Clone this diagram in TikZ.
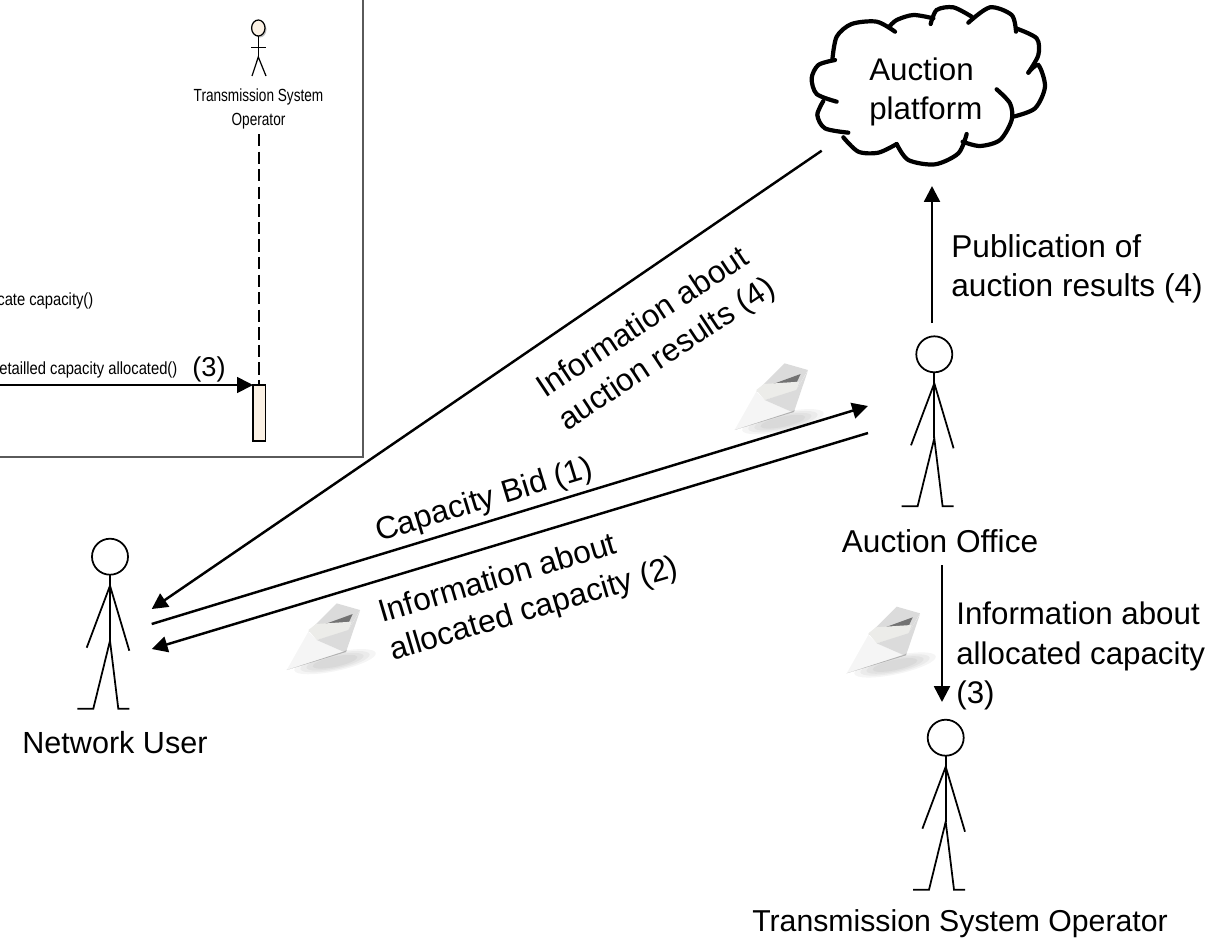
\documentclass[tikz,border=0pt]{standalone}
\usepackage{fontspec}
\setmainfont{Liberation Sans}
\usetikzlibrary{arrows.meta}
\definecolor{boxgray}{HTML}{5A5A5A}
\definecolor{cream}{HTML}{FBF1E4}
\newcommand{\narrowtext}[1]{\scalebox{0.775}[1]{#1}}
\newcommand{\msgtext}[1]{\scalebox{0.84}[1]{#1}}
\tikzset{
  msgline/.style={line width=1.4pt, -{Triangle[length=9pt,width=9pt]}},
  bigtext/.style={font=\fontsize{18}{22.4}\selectfont, inner sep=0pt},
  smalltext/.style={font=\fontsize{10}{13.7}\selectfont, inner sep=0pt},
  pics/stickman/.style={code={
    \draw[line width=1pt] (0,0) circle (18);
    \draw[line width=1pt] (0,18) -- (0,84);
    \draw[line width=1pt] (-23.3,91) -- (0,29) -- (19.3,94);
    \draw[line width=1pt] (-32.7,152) -- (-16.7,152) -- (0,84) -- (8.3,152) -- (19.3,152);
  }},
  pics/envelope/.style={code={
    \begin{scope}[scale=1/3, shift={(-20,-210)}]
    \foreach \r in {1,0.85,0.7,0.55}
      \fill[black, opacity=0.04, rotate around={12:(165,185)}] (165,185) ellipse ({125*\r} and {28*\r});
    \fill[black!14] (85,95) -- (170,10) -- (240,30) -- (205,90) -- cycle;
    \fill[black!55] (100,85) -- (218,42) -- (205,70) -- cycle;
    \fill[yellow!14!black!10] (85,90) -- (108,72) -- (215,65) -- (205,92) -- (110,120) -- cycle;
    \fill[black!4] (20,210) -- (85,95) -- (110,120) -- (190,155) -- cycle;
    \fill[black!14] (110,120) -- (205,90) -- (240,32) -- (200,150) -- (190,155) -- cycle;
    \fill[black!30] (20,210) -- (190,155) -- (200,150) -- (198,156) -- cycle;
    \end{scope}
  }}
}
\begin{document}
\begin{tikzpicture}[x=0.02cm, y=-0.02cm]
\useasboundingbox (0,0) rectangle (1228,941);
% sequence diagram cut-out
\draw[boxgray, line width=1pt] (362.7,-5) -- (362.7,456.7) -- (-5,456.7);
\fill[black!25] (259.8,29.5) ellipse (6.7 and 8);
\draw[fill=cream, line width=0.7pt] (258.3,28) ellipse (6.7 and 8);
\draw[line width=0.7pt] (258.3,36) -- (258.3,57);
\draw[line width=0.7pt] (251,47.3) -- (266,47.3);
\draw[line width=0.7pt] (252,76) -- (258.3,57) -- (266,76);
\node[smalltext, align=center] (tsosmall) at (258.5,109) {\narrowtext{Transmission System}\\\narrowtext{Operator}};
\draw[dash pattern=on 7pt off 3pt, line width=0.7pt] (259,134) -- (259,385);
\draw[fill=cream, line width=0.8pt] (253,385) rectangle (265.5,441);
\draw[line width=1.1pt] (253,441) -- (266,441);
\coordinate (msgstart) at (-5,385);
\coordinate (msgend) at (253,385);
\draw[line width=1pt, -{Triangle[length=9pt,width=9pt]}] (msgstart) -- (msgend);
\node[smalltext, anchor=east] (allocate) at (93.7,300.7) {\msgtext{cate capacity()}};
\node[smalltext, anchor=east] (allocated) at (177.7,370) {\msgtext{etailled capacity allocated()}};
\node[font=\fontsize{15.5}{18}\selectfont, inner sep=0pt] (three) at (209,369) {(3)};
% cloud
\begin{scope}[shift={(780,0)}, scale=1/3, line width=2.4pt, line cap=round]
\draw plot[smooth] coordinates {(165,180) (115,195) (95,235) (110,282) (170,305)};
\draw plot[smooth] coordinates {(130,303) (112,345) (135,385) (205,398)};
\draw plot[smooth] coordinates {(190,412) (235,455) (295,458) (350,432)};
\draw plot[smooth] coordinates {(350,432) (385,480) (465,493) (535,460) (560,402)};
\draw plot[smooth] coordinates {(548,425) (600,438) (660,420) (695,360) (690,310) (650,268)};
\draw plot[smooth] coordinates {(700,350) (765,325) (795,260) (775,195) (745,218)};
\draw plot[smooth] coordinates {(745,218) (775,165) (770,115) (708,85)};
\draw plot[smooth] coordinates {(708,95) (695,45) (630,22) (565,68)};
\draw plot[smooth] coordinates {(575,50) (520,22) (470,30) (452,72)};
\draw plot[smooth] coordinates {(460,55) (400,45) (350,60) (328,80)};
\draw plot[smooth] coordinates {(345,95) (290,65) (215,72) (170,110) (157,180)};
\end{scope}
\node[inner sep=0pt, font=\fontsize{17.8}{21.9}\selectfont, align=left, anchor=west] (platform) at (869,92) {Auction\\platform};
% actors
\pic at (110,556.7) {stickman};
\pic at (934.3,354.3) {stickman};
\pic at (945.7,737.7) {stickman};
\node[inner sep=0pt, font=\fontsize{17.4}{20}\selectfont] (networkuser) at (115,743) {Network User};
\node[bigtext] (auctionoffice) at (940,541) {Auction Office};
\node[inner sep=0pt, font=\fontsize{17.2}{20}\selectfont] (tso) at (960,924) {Transmission System Operator};
% envelopes
\pic at (734.6,430) {envelope};
\pic at (286.7,670) {envelope};
\pic at (846.7,673.3) {envelope};
% messages
\coordinate (cloudtail) at (821.7,150.7);
\coordinate (userin) at (151.7,609);
\coordinate (bidstart) at (151.7,624);
\coordinate (bidend) at (868,406);
\coordinate (infostart) at (868,433);
\coordinate (infoend) at (151.7,649);
\coordinate (pubstart) at (932,323);
\coordinate (pubend) at (932,186);
\coordinate (tsostart) at (942,565);
\coordinate (tsoend) at (942,702);
\draw[msgline] (cloudtail) -- (userin);
\draw[msgline] (bidstart) -- (bidend);
\draw[msgline] (infostart) -- (infoend);
\draw[msgline] (pubstart) -- (pubend);
\draw[msgline] (tsostart) -- (tsoend);
\node[bigtext, align=left, rotate=33.5, anchor=west] (resultstext) at (551.6,408.3) {Information about\\auction results (4)};
\node[bigtext, rotate=17, anchor=west] (bidtext) at (376.4,534) {Capacity Bid (1)};
\node[bigtext, align=left, rotate=16.5, anchor=west] (infotext) at (385.4,633.8) {Information about\\allocated capacity (2)};
\node[bigtext, align=left, anchor=west] (pubtext) at (951,269) {Publication of\\auction results (4)};
\node[font=\fontsize{17.8}{22.4}\selectfont, inner sep=0pt, align=left, anchor=west] (tsotext) at (956,656) {Information about\\allocated capacity\\(3)};
\end{tikzpicture}
\end{document}
